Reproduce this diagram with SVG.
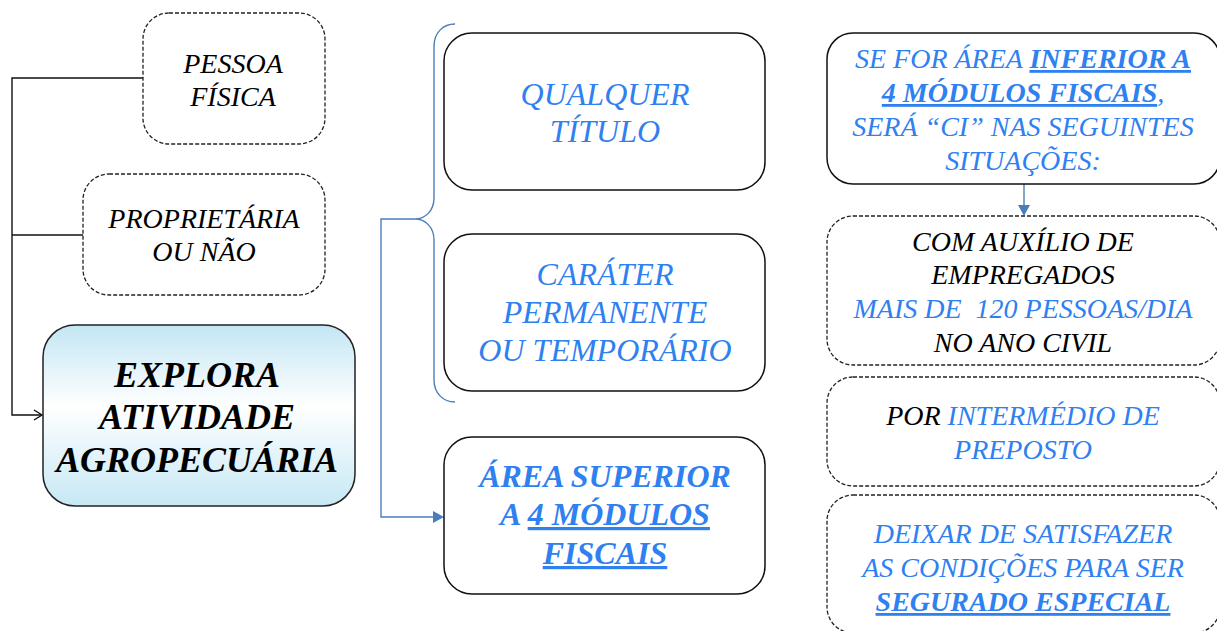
<svg xmlns="http://www.w3.org/2000/svg" width="1217" height="631" viewBox="0 0 1217 631">
<style>
.dash{fill:#fff;stroke:#222;stroke-width:1.3;stroke-dasharray:4 2}
.solid{fill:#fff;stroke:#111;stroke-width:1.5}
.conk{fill:none;stroke:#111;stroke-width:1.4}
.conb{fill:none;stroke:#4a7ebb;stroke-width:1.4}
.headb{fill:#4a7ebb}
</style>
<defs>
<linearGradient id="g" x1="0" y1="0" x2="0" y2="1">
<stop offset="0" stop-color="#c3e6f4"/>
<stop offset="0.45" stop-color="#ffffff"/>
<stop offset="1" stop-color="#c6e8f5"/>
</linearGradient>
</defs>

<g id="connectors">
<path class="conk" d="M143,78 H12 V415 H42"/>
<path class="conk" d="M34,410 L42,415 L34,420" stroke-width="1.5"/>
<path class="conk" d="M83,235 H12"/>
<path class="conb" d="M455,24 C443,24 434,33 434,46 L434,198 C434,211 425,219 415,219 C425,219 434,227 434,240 L434,380 C434,393 443,402 455,402"/>
<path class="conb" d="M415,219 H381 V517 H434"/>
<path class="headb" d="M433,511 L444,517 L433,523 Z"/>
<path class="conb" d="M1024,184 V206"/>
<path class="headb" d="M1018,205 L1024,216 L1030,205 Z"/>
</g>

<g id="pessoa">
<rect class="dash" x="143" y="13" width="182" height="131" rx="26"/>
<text x="233" y="73" font-size="28" font-family="Liberation Serif" font-style="italic" text-anchor="middle" fill="#000">PESSOA</text>
<text x="233" y="106" font-size="28" font-family="Liberation Serif" font-style="italic" text-anchor="middle" fill="#000">FÍSICA</text>
</g>

<g id="proprietaria">
<rect class="dash" x="83" y="174" width="242" height="121" rx="26"/>
<text x="204" y="228" font-size="28" font-family="Liberation Serif" font-style="italic" text-anchor="middle" fill="#000">PROPRIETÁRIA</text>
<text x="204" y="261" font-size="28" font-family="Liberation Serif" font-style="italic" text-anchor="middle" fill="#000">OU NÃO</text>
</g>

<g id="explora">
<rect x="43" y="325" width="312" height="181" rx="32" fill="url(#g)" stroke="#222" stroke-width="1.5"/>
<text x="197" y="387" font-size="36" font-family="Liberation Serif" font-style="italic" font-weight="bold" text-anchor="middle" fill="#000">EXPLORA</text>
<text x="197" y="429" font-size="36" font-family="Liberation Serif" font-style="italic" font-weight="bold" text-anchor="middle" fill="#000">ATIVIDADE</text>
<text x="197" y="472" font-size="36" font-family="Liberation Serif" font-style="italic" font-weight="bold" text-anchor="middle" fill="#000">AGROPECUÁRIA</text>
</g>

<g id="qualquer">
<rect class="solid" x="444" y="33" width="321" height="157" rx="28"/>
<text x="605" y="105" font-size="32" font-family="Liberation Serif" font-style="italic" text-anchor="middle" fill="#2f80f0">QUALQUER</text>
<text x="605" y="142" font-size="32" font-family="Liberation Serif" font-style="italic" text-anchor="middle" fill="#2f80f0">TÍTULO</text>
</g>

<g id="carater">
<rect class="solid" x="444" y="234" width="321" height="157" rx="28"/>
<text x="605" y="285" font-size="32" font-family="Liberation Serif" font-style="italic" text-anchor="middle" fill="#2f80f0">CARÁTER</text>
<text x="605" y="323" font-size="32" font-family="Liberation Serif" font-style="italic" text-anchor="middle" fill="#2f80f0">PERMANENTE</text>
<text x="605" y="361" font-size="32" font-family="Liberation Serif" font-style="italic" text-anchor="middle" fill="#2f80f0">OU TEMPORÁRIO</text>
</g>

<g id="area">
<rect class="solid" x="444" y="437" width="321" height="157" rx="28"/>
<text x="605" y="487" font-size="32" font-family="Liberation Serif" font-style="italic" font-weight="bold" text-anchor="middle" fill="#2f80f0">ÁREA SUPERIOR</text>
<text x="605" y="525" font-size="32" font-family="Liberation Serif" font-style="italic" font-weight="bold" text-anchor="middle" fill="#2f80f0">A <tspan text-decoration="underline">4 MÓDULOS</tspan></text>
<text x="605" y="564" font-size="32" font-family="Liberation Serif" font-style="italic" font-weight="bold" text-anchor="middle" fill="#2f80f0" text-decoration="underline">FISCAIS</text>
</g>

<g id="inferior">
<rect class="solid" x="827" y="33" width="393" height="151" rx="26"/>
<text x="1023" y="68" font-size="28" font-family="Liberation Serif" font-style="italic" text-anchor="middle" fill="#2f80f0">SE FOR ÁREA <tspan font-weight="bold" text-decoration="underline">INFERIOR A</tspan></text>
<text x="1023" y="102" font-size="28" font-family="Liberation Serif" font-style="italic" text-anchor="middle" fill="#2f80f0"><tspan font-weight="bold" text-decoration="underline">4 MÓDULOS FISCAIS</tspan>,</text>
<text x="1023" y="136" font-size="28" font-family="Liberation Serif" font-style="italic" text-anchor="middle" fill="#2f80f0">SERÁ “CI” NAS SEGUINTES</text>
<text x="1023" y="170" font-size="28" font-family="Liberation Serif" font-style="italic" text-anchor="middle" fill="#2f80f0">SITUAÇÕES:</text>
</g>

<g id="empregados">
<rect class="dash" x="827" y="216" width="393" height="149" rx="26"/>
<text x="1023" y="251" font-size="28" font-family="Liberation Serif" font-style="italic" text-anchor="middle" fill="#000">COM AUXÍLIO DE</text>
<text x="1023" y="284" font-size="28" font-family="Liberation Serif" font-style="italic" text-anchor="middle" fill="#000">EMPREGADOS</text>
<text x="1023" y="318" font-size="28" font-family="Liberation Serif" font-style="italic" text-anchor="middle" fill="#2f80f0">MAIS DE &#160;120 PESSOAS/DIA</text>
<text x="1023" y="352" font-size="28" font-family="Liberation Serif" font-style="italic" text-anchor="middle" fill="#000">NO ANO CIVIL</text>
</g>

<g id="preposto">
<rect class="dash" x="827" y="377" width="393" height="109" rx="26"/>
<text x="1023" y="425" font-size="28" font-family="Liberation Serif" font-style="italic" text-anchor="middle" fill="#2f80f0"><tspan fill="#000">POR </tspan>INTERMÉDIO DE</text>
<text x="1023" y="459" font-size="28" font-family="Liberation Serif" font-style="italic" text-anchor="middle" fill="#2f80f0">PREPOSTO</text>
</g>

<g id="especial">
<rect class="dash" x="827" y="495" width="393" height="138" rx="26"/>
<text x="1023" y="543" font-size="28" font-family="Liberation Serif" font-style="italic" text-anchor="middle" fill="#2f80f0">DEIXAR DE SATISFAZER</text>
<text x="1023" y="577" font-size="28" font-family="Liberation Serif" font-style="italic" text-anchor="middle" fill="#2f80f0">AS CONDIÇÕES PARA SER</text>
<text x="1023" y="611" font-size="28" font-family="Liberation Serif" font-style="italic" font-weight="bold" text-anchor="middle" fill="#2f80f0" text-decoration="underline">SEGURADO ESPECIAL</text>
</g>
</svg>
